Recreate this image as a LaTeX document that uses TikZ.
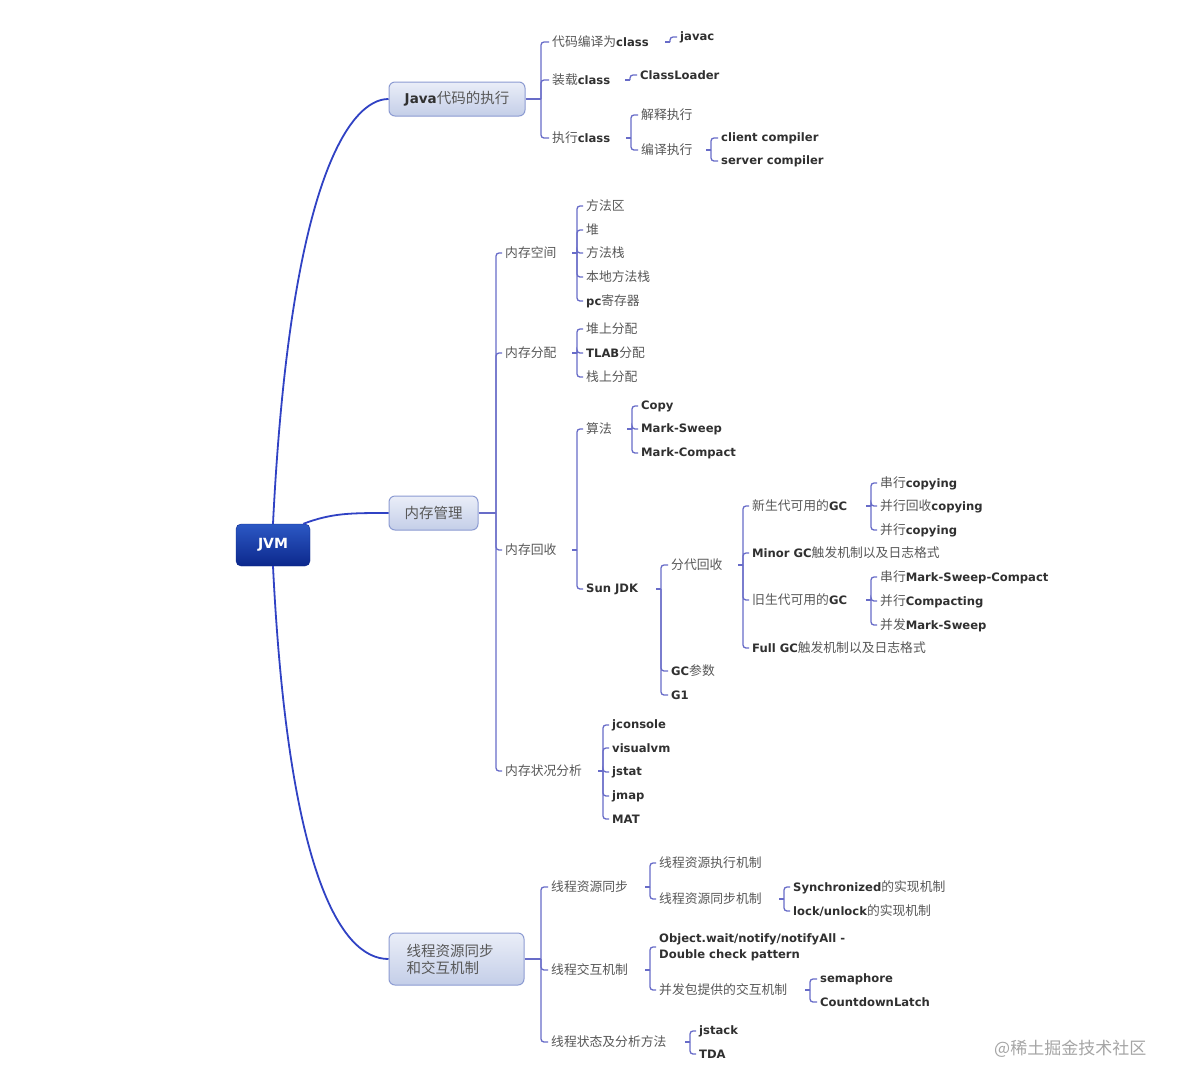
\documentclass[tikz,border=0pt]{standalone}
\usepackage{fontspec}
\setmainfont{Noto Sans CJK SC}
\newfontfamily\latf{DejaVu Sans}
\usetikzlibrary{calc}
\definecolor{curvec}{RGB}{48,66,196}
\definecolor{brc}{RGB}{104,108,200}
\definecolor{cjkc}{RGB}{88,88,88}
\definecolor{latc}{RGB}{48,48,48}
\definecolor{topdraw}{RGB}{140,155,210}
\definecolor{toptop}{RGB}{234,238,248}
\definecolor{topbot}{RGB}{196,206,232}
\definecolor{jvmtop}{RGB}{44,88,196}
\definecolor{jvmbot}{RGB}{12,40,140}
\definecolor{wmc}{RGB}{165,165,165}
\newcommand{\EN}[1]{{\latf\bfseries\fontsize{11.6}{13}\selectfont\color{latc}#1}}
\newcommand{\ENT}[1]{{\latf\bfseries\fontsize{13.5}{16}\selectfont\color{latc}#1}}
\newcommand{\lk}[2]{\draw[br] (#1) |- (#2.west);}
\newcommand{\tk}[1]{\draw[br] (#1) -- ++(-5,0);}
\begin{document}
\begin{tikzpicture}[x=1pt,y=-1pt,
  leaf/.style={anchor=west, inner xsep=3pt, inner ysep=1pt, xshift=-2pt, text=cjkc, font=\fontsize{12.8}{15}\selectfont},
  br/.style={draw=brc, line width=1.3pt, rounded corners=3pt},
  curve/.style={draw=curvec, line width=1.8pt},
  topic/.style={draw=topdraw, line width=1pt, rounded corners=6pt, top color=toptop, bottom color=topbot,
    text=cjkc, font=\fontsize{14.5}{17}\selectfont, align=center, inner sep=2pt},
  root/.style={draw=jvmbot, rounded corners=5pt, top color=jvmtop, bottom color=jvmbot,
    text=white, font=\latf\bfseries\fontsize{14}{16}\selectfont, minimum width=74pt, minimum height=42pt}
]
\useasboundingbox (0,0) rectangle (1184,1088);
\fill[white] (0,0) rectangle (1184,1088);

% ---------- root and topics ----------
\node[root] (jvm) at (273,545) {JVM};
\node[topic, minimum width=136pt, minimum height=34pt] (java) at (457,99) {\ENT{Java}代码的执行};
\node[topic, minimum width=89pt, minimum height=34pt] (mem) at (433.5,513) {内存管理};
\node[topic, minimum width=135pt, minimum height=52pt, align=left, text width=100pt] (thr) at (456.5,959) {线程资源同步\\和交互机制};

\draw[curve] (jvm.north) .. controls (290,180) and (350,99) .. (java.west);
\draw[curve] (jvm.south) .. controls (288,870) and (340,959) .. (thr.west);
\draw[curve] (jvm.35) .. controls (332,513) and (350,513) .. (mem.west);

% ---------- Java branch ----------
\node[leaf] (c1) at (551,42) {代码编译为\EN{class}};
\node[leaf] (c2) at (551,80) {装载\EN{class}};
\node[leaf] (c3) at (551,138) {执行\EN{class}};
\coordinate (jJ) at (541,99);
\draw[br] (java.east) -- (jJ);
\lk{jJ}{c1}\lk{jJ}{c2}\lk{jJ}{c3}

\node[leaf] (javac) at (679,37) {\EN{javac}};
\coordinate (j1) at (670,42); \tk{j1}\lk{j1}{javac}
\node[leaf] (cl) at (639,75) {\EN{ClassLoader}};
\coordinate (j2) at (630,80); \tk{j2}\lk{j2}{cl}
\node[leaf] (interp) at (640,115) {解释执行};
\node[leaf] (comp) at (640,150) {编译执行};
\coordinate (j3) at (631,138); \tk{j3}\lk{j3}{interp}\lk{j3}{comp}
\node[leaf] (client) at (720,138) {\EN{client compiler}};
\node[leaf] (server) at (720,161) {\EN{server compiler}};
\coordinate (j4) at (711,150); \tk{j4}\lk{j4}{client}\lk{j4}{server}

% ---------- Memory branch ----------
\node[leaf] (ms) at (504,253) {内存空间};
\node[leaf] (ma) at (504,353) {内存分配};
\node[leaf] (mr) at (504,550) {内存回收};
\node[leaf] (mx) at (504,771) {内存状况分析};
\coordinate (jM) at (496,513);
\draw[br] (mem.east) -- (jM);
\lk{jM}{ms}\lk{jM}{ma}\lk{jM}{mr}\lk{jM}{mx}

\node[leaf] (s1) at (585,206) {方法区};
\node[leaf] (s2) at (585,230) {堆};
\node[leaf] (s3) at (585,253) {方法栈};
\node[leaf] (s4) at (585,277) {本地方法栈};
\node[leaf] (s5) at (585,301) {\EN{pc}寄存器};
\coordinate (js) at (577,253); \tk{js}
\lk{js}{s1}\lk{js}{s2}\lk{js}{s3}\lk{js}{s4}\lk{js}{s5}

\node[leaf] (a1) at (585,329) {堆上分配};
\node[leaf] (a2) at (585,353) {\EN{TLAB}分配};
\node[leaf] (a3) at (585,377) {栈上分配};
\coordinate (ja) at (577,353); \tk{ja}
\lk{ja}{a1}\lk{ja}{a2}\lk{ja}{a3}

\node[leaf] (alg) at (585,429) {算法};
\node[leaf] (sun) at (585,589) {\EN{Sun JDK}};
\coordinate (jr) at (577,550); \tk{jr}\lk{jr}{alg}\lk{jr}{sun}

\node[leaf] (g1) at (640,406) {\EN{Copy}};
\node[leaf] (g2) at (640,429) {\EN{Mark-Sweep}};
\node[leaf] (g3) at (640,453) {\EN{Mark-Compact}};
\coordinate (jg) at (632,429); \tk{jg}\lk{jg}{g1}\lk{jg}{g2}\lk{jg}{g3}

\node[leaf] (gen) at (670,565) {分代回收};
\node[leaf] (gcp) at (670,671) {\EN{GC}参数};
\node[leaf] (gone) at (670,695) {\EN{G1}};
\coordinate (jsun) at (661,589); \tk{jsun}\lk{jsun}{gen}\lk{jsun}{gcp}\lk{jsun}{gone}

\node[leaf] (ng) at (751,506) {新生代可用的\EN{GC}};
\node[leaf] (minor) at (751,553) {\EN{Minor GC}触发机制以及日志格式};
\node[leaf] (og) at (751,600) {旧生代可用的\EN{GC}};
\node[leaf] (full) at (751,648) {\EN{Full GC}触发机制以及日志格式};
\coordinate (jgen) at (743,565); \tk{jgen}
\lk{jgen}{ng}\lk{jgen}{minor}\lk{jgen}{og}\lk{jgen}{full}

\node[leaf] (n1) at (879,483) {串行\EN{copying}};
\node[leaf] (n2) at (879,506) {并行回收\EN{copying}};
\node[leaf] (n3) at (879,530) {并行\EN{copying}};
\coordinate (jng) at (871,506); \tk{jng}\lk{jng}{n1}\lk{jng}{n2}\lk{jng}{n3}

\node[leaf] (o1) at (879,577) {串行\EN{Mark-Sweep-Compact}};
\node[leaf] (o2) at (879,601) {并行\EN{Compacting}};
\node[leaf] (o3) at (879,625) {并发\EN{Mark-Sweep}};
\coordinate (jog) at (871,600); \tk{jog}\lk{jog}{o1}\lk{jog}{o2}\lk{jog}{o3}

\node[leaf] (t1) at (611,725) {\EN{jconsole}};
\node[leaf] (t2) at (611,748) {\EN{visualvm}};
\node[leaf] (t3) at (611,772) {\EN{jstat}};
\node[leaf] (t4) at (611,796) {\EN{jmap}};
\node[leaf] (t5) at (611,819) {\EN{MAT}};
\coordinate (jx) at (603,771); \tk{jx}
\lk{jx}{t1}\lk{jx}{t2}\lk{jx}{t3}\lk{jx}{t4}\lk{jx}{t5}

% ---------- Thread branch ----------
\node[leaf] (ts) at (550,887) {线程资源同步};
\node[leaf] (ti) at (550,970) {线程交互机制};
\node[leaf] (tst) at (550,1042) {线程状态及分析方法};
\coordinate (jT) at (541,959);
\draw[br] (thr.east) -- (jT);
\lk{jT}{ts}\lk{jT}{ti}\lk{jT}{tst}

\node[leaf] (e1) at (658,863) {线程资源执行机制};
\node[leaf] (e2) at (658,899) {线程资源同步机制};
\coordinate (jts) at (650,887); \tk{jts}\lk{jts}{e1}\lk{jts}{e2}

\node[leaf] (y1) at (792,887) {\EN{Synchronized}的实现机制};
\node[leaf] (y2) at (792,911) {\EN{lock/unlock}的实现机制};
\coordinate (je2) at (784,899); \tk{je2}\lk{je2}{y1}\lk{je2}{y2}

\node[leaf, align=left] (w1) at (658,947) {\EN{Object.wait/notify/notifyAll -}\\[1pt]\EN{Double check pattern}};
\node[leaf] (w2) at (658,990) {并发包提供的交互机制};
\coordinate (jti) at (650,970); \tk{jti}\lk{jti}{w1}\lk{jti}{w2}

\node[leaf] (p1) at (819,979) {\EN{semaphore}};
\node[leaf] (p2) at (819,1002) {\EN{CountdownLatch}};
\coordinate (jw2) at (810,990); \tk{jw2}\lk{jw2}{p1}\lk{jw2}{p2}

\node[leaf] (k1) at (698,1031) {\EN{jstack}};
\node[leaf] (k2) at (698,1054) {\EN{TDA}};
\coordinate (jtst) at (690,1042); \tk{jtst}\lk{jtst}{k1}\lk{jtst}{k2}

% ---------- watermark ----------
\node[anchor=west, inner sep=0pt, text=wmc, font=\fontsize{17}{20}\selectfont] (wm) at (994,1049) {@稀土掘金技术社区};
\end{tikzpicture}
\end{document}
